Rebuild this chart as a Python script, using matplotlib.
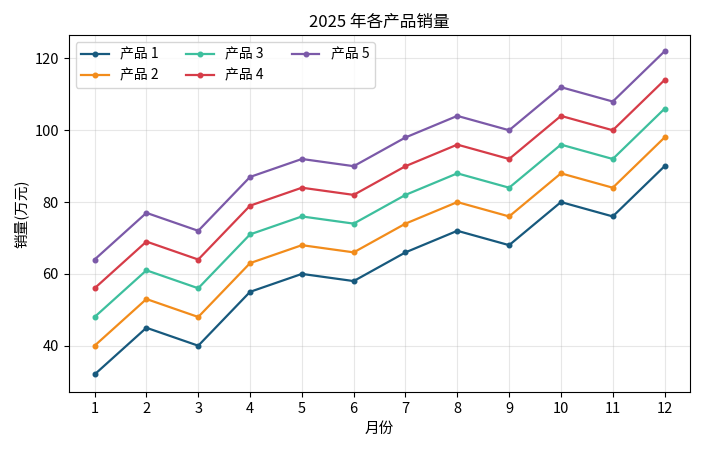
import matplotlib
matplotlib.use("Agg")
import matplotlib.pyplot as plt

plt.rcParams['font.family'] = ['Noto Sans CJK SC', 'DejaVu Sans']

months = list(range(1, 13))
product_names = ["产品 1", "产品 2", "产品 3", "产品 4", "产品 5"]
sales_p1 = [32, 45, 40, 55, 60, 58, 66, 72, 68, 80, 76, 90]
sales_p2 = [40, 53, 48, 63, 68, 66, 74, 80, 76, 88, 84, 98]
sales_p3 = [48, 61, 56, 71, 76, 74, 82, 88, 84, 96, 92, 106]
sales_p4 = [56, 69, 64, 79, 84, 82, 90, 96, 92, 104, 100, 114]
sales_p5 = [64, 77, 72, 87, 92, 90, 98, 104, 100, 112, 108, 122]
colors = ["#17597d", "#f28c1b", "#3dbf9d", "#d63c48", "#7b59a8"]

fig, ax = plt.subplots(figsize=(7.01, 4.5), dpi=100)
series = [sales_p1, sales_p2, sales_p3, sales_p4, sales_p5]
for name, vals, c in zip(product_names, series, colors):
    ax.plot(months, vals, marker="o", markersize=3.3, linewidth=1.6, color=c, label=name)

ax.set_title("2025 年各产品销量", fontsize=12)
ax.set_xlabel("月份", fontsize=10.5)
ax.set_ylabel("销量(万元)", fontsize=10.5)
ax.set_xticks(months)
ax.tick_params(labelsize=10.5)
ax.set_xlim(0.5, 12.5)
ax.set_ylim(27, 126.5)
ax.grid(True, alpha=0.3)
ax.legend(loc="upper left", ncol=3, fontsize=10)
fig.subplots_adjust(left=0.098, right=0.985, top=0.922, bottom=0.128)
fig.savefig("out.png", dpi=100)
